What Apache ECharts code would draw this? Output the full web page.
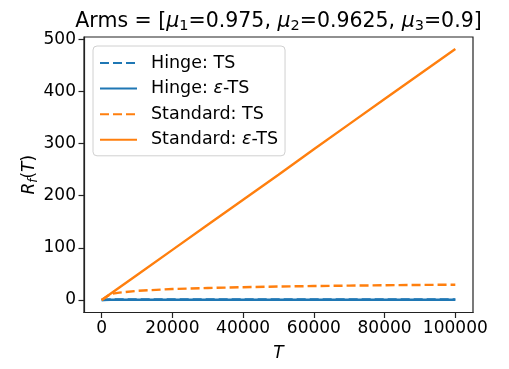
<!DOCTYPE html>
<html>
<head>
<meta charset="utf-8">
<script src="https://cdn.jsdelivr.net/npm/echarts@6/dist/echarts.min.js"></script>
<style>html,body{margin:0;padding:0;background:#fff}#c{width:509px;height:369px}</style>
</head>
<body>
<div id="c"></div>
<script>
// ---- data ----
const T = [0, 2500, 5000, 10000, 20000, 30000, 40000, 50000, 60000, 70000, 80000, 90000, 100000];
const hingeTS = [0, 0.8, 0.9, 1.0, 1.0, 1.1, 1.1, 1.1, 1.1, 1.1, 1.1, 1.1, 1.1];
const hingeEpsTS = [0, 0.3, 0.3, 0.4, 0.4, 0.4, 0.4, 0.4, 0.4, 0.4, 0.4, 0.4, 0.4];
const standardTS = [0, 11.5, 14, 17.5, 21, 23, 24.5, 25.8, 26.7, 27.5, 28.2, 28.8, 29.3];
const standardEpsTS = [0, 12, 24, 48, 96, 144, 192, 240, 289, 337, 385, 433, 481];
const xTicks = [0, 20000, 40000, 60000, 80000, 100000];
const yTicks = [0, 100, 200, 300, 400, 500];
const seriesNames = ['Hinge: TS', 'Hinge: ε-TS', 'Standard: TS', 'Standard: ε-TS'];

const FONT = 'DejaVu Sans';
const BLUE = '#1f77b4', ORANGE = '#ff7f0e';
const pairs = ys => T.map((t, i) => [t, ys[i]]);
const DASH = [9, 4];
const LW = 2.4;

const chart = echarts.init(document.getElementById('c'), null, {renderer: 'canvas'});
function mk(name, ys, color, dashed) {
  return {
    name, type: 'line', data: pairs(ys), showSymbol: false, symbol: 'none',
    smooth: false, animation: false,
    lineStyle: {color, width: LW, type: dashed ? DASH : 'solid'},
    itemStyle: {color}
  };
}
chart.setOption({
  animation: false,
  backgroundColor: '#fff',
  textStyle: {fontFamily: FONT},
  title: {
    text: '{a|Arms = [}{i|μ}{s|1}{a|=0.975, }{i|μ}{s|2}{a|=0.9625, }{i|μ}{s|3}{a|=0.9]}',
    left: 278.5, top: 10, textAlign: 'center', padding: 0,
    textStyle: {
      fontFamily: FONT, fontSize: 20.5, color: '#000', fontWeight: 'normal',
      rich: {
        a: {fontFamily: FONT, fontSize: 20.5, color: '#000', lineHeight: 24},
        i: {fontFamily: FONT, fontSize: 20.5, color: '#000', fontStyle: 'italic', lineHeight: 24},
        s: {fontFamily: FONT, fontSize: 14.5, color: '#000', lineHeight: 14, verticalAlign: 'bottom'}
      }
    }
  },
  grid: {left: 84, right: 36, top: 37, bottom: 56.5, show: true, borderColor: '#222', borderWidth: 1.2, backgroundColor: 'transparent'},
  legend: {
    left: 93, top: 46, orient: 'vertical',
    itemWidth: 37, itemHeight: 14, itemGap: 5.6,
    padding: [7, 7, 6, 6],
    backgroundColor: 'rgba(255,255,255,0.8)',
    borderColor: '#d0d0d0', borderWidth: 1, borderRadius: 4,
    itemStyle: {opacity: 0},
    data: seriesNames,
    formatter: function (n) { return n.replace('ε', '{i|ε}'); },
    textStyle: {
      fontFamily: FONT, fontSize: 17.5, color: '#000', lineHeight: 20, padding: [0, 0, 0, 9],
      rich: {i: {fontFamily: FONT, fontSize: 17.5, fontStyle: 'italic', color: '#000', lineHeight: 20}}
    }
  },
  xAxis: {
    type: 'value', min: -5000, max: 105000,
    name: 'T', nameLocation: 'middle', nameGap: 33, nameMoveOverlap: false,
    nameTextStyle: {fontFamily: FONT, fontSize: 17, fontStyle: 'italic', color: '#000'},
    axisLine: {show: true, onZero: false, lineStyle: {color: '#222', width: 1.2}},
    axisTick: {show: true, customValues: xTicks, length: 5.5, inside: false, lineStyle: {color: '#222', width: 1.2}},
    axisLabel: {show: true, customValues: xTicks, fontFamily: FONT, fontSize: 17, color: '#000', margin: 8,
      formatter: v => String(v)},
    splitLine: {show: false}
  },
  yAxis: {
    type: 'value', min: -24, max: 504,
    name: '{i|R}{s|f}{a|(}{i|T}{a|)}', nameLocation: 'middle', nameGap: 44, nameRotate: 90, nameMoveOverlap: false,
    nameTextStyle: {
      fontFamily: FONT, fontSize: 17, color: '#000',
      rich: {
        i: {fontFamily: FONT, fontSize: 17, fontStyle: 'italic', color: '#000', lineHeight: 20},
        a: {fontFamily: FONT, fontSize: 17, color: '#000', lineHeight: 20},
        s: {fontFamily: FONT, fontSize: 12, fontStyle: 'italic', color: '#000', lineHeight: 12, verticalAlign: 'bottom'}
      }
    },
    axisLine: {show: true, onZero: false, lineStyle: {color: '#222', width: 1.2}},
    axisTick: {show: true, customValues: yTicks, length: 5.5, inside: false, lineStyle: {color: '#222', width: 1.2}},
    axisLabel: {show: true, customValues: yTicks, fontFamily: FONT, fontSize: 17, color: '#000', margin: 8,
      formatter: v => String(v)},
    splitLine: {show: false}
  },
  series: [
    mk(seriesNames[0], hingeTS, BLUE, true),
    mk(seriesNames[1], hingeEpsTS, BLUE, false),
    mk(seriesNames[2], standardTS, ORANGE, true),
    mk(seriesNames[3], standardEpsTS, ORANGE, false)
  ]
});
</script>
</body>
</html>
